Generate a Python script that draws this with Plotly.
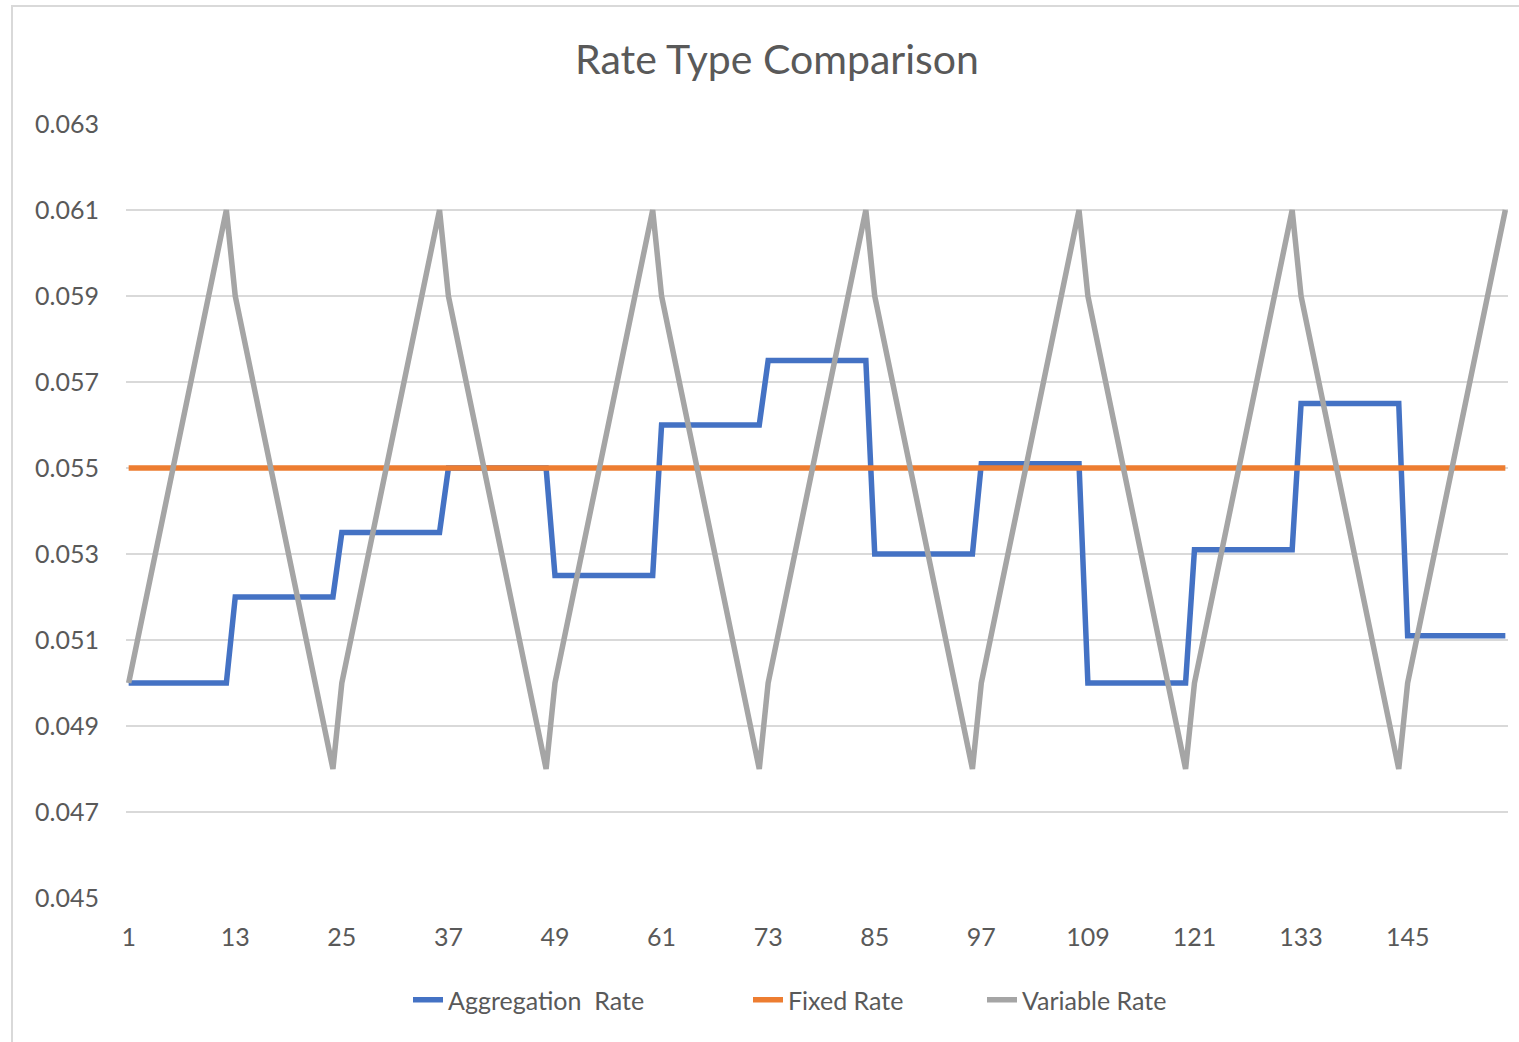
import plotly.graph_objects as go

# ---- data ----
periods = list(range(1, 157))

aggregation_rate = [
    0.0500, 0.0500, 0.0500, 0.0500, 0.0500, 0.0500, 0.0500, 0.0500, 0.0500, 0.0500, 0.0500, 0.0500,
    0.0520, 0.0520, 0.0520, 0.0520, 0.0520, 0.0520, 0.0520, 0.0520, 0.0520, 0.0520, 0.0520, 0.0520,
    0.0535, 0.0535, 0.0535, 0.0535, 0.0535, 0.0535, 0.0535, 0.0535, 0.0535, 0.0535, 0.0535, 0.0535,
    0.0550, 0.0550, 0.0550, 0.0550, 0.0550, 0.0550, 0.0550, 0.0550, 0.0550, 0.0550, 0.0550, 0.0550,
    0.0525, 0.0525, 0.0525, 0.0525, 0.0525, 0.0525, 0.0525, 0.0525, 0.0525, 0.0525, 0.0525, 0.0525,
    0.0560, 0.0560, 0.0560, 0.0560, 0.0560, 0.0560, 0.0560, 0.0560, 0.0560, 0.0560, 0.0560, 0.0560,
    0.0575, 0.0575, 0.0575, 0.0575, 0.0575, 0.0575, 0.0575, 0.0575, 0.0575, 0.0575, 0.0575, 0.0575,
    0.0530, 0.0530, 0.0530, 0.0530, 0.0530, 0.0530, 0.0530, 0.0530, 0.0530, 0.0530, 0.0530, 0.0530,
    0.0551, 0.0551, 0.0551, 0.0551, 0.0551, 0.0551, 0.0551, 0.0551, 0.0551, 0.0551, 0.0551, 0.0551,
    0.0500, 0.0500, 0.0500, 0.0500, 0.0500, 0.0500, 0.0500, 0.0500, 0.0500, 0.0500, 0.0500, 0.0500,
    0.0531, 0.0531, 0.0531, 0.0531, 0.0531, 0.0531, 0.0531, 0.0531, 0.0531, 0.0531, 0.0531, 0.0531,
    0.0565, 0.0565, 0.0565, 0.0565, 0.0565, 0.0565, 0.0565, 0.0565, 0.0565, 0.0565, 0.0565, 0.0565,
    0.0511, 0.0511, 0.0511, 0.0511, 0.0511, 0.0511, 0.0511, 0.0511, 0.0511, 0.0511, 0.0511, 0.0511,
]

fixed_rate = [
    0.055, 0.055, 0.055, 0.055, 0.055, 0.055, 0.055, 0.055, 0.055, 0.055, 0.055, 0.055,
    0.055, 0.055, 0.055, 0.055, 0.055, 0.055, 0.055, 0.055, 0.055, 0.055, 0.055, 0.055,
    0.055, 0.055, 0.055, 0.055, 0.055, 0.055, 0.055, 0.055, 0.055, 0.055, 0.055, 0.055,
    0.055, 0.055, 0.055, 0.055, 0.055, 0.055, 0.055, 0.055, 0.055, 0.055, 0.055, 0.055,
    0.055, 0.055, 0.055, 0.055, 0.055, 0.055, 0.055, 0.055, 0.055, 0.055, 0.055, 0.055,
    0.055, 0.055, 0.055, 0.055, 0.055, 0.055, 0.055, 0.055, 0.055, 0.055, 0.055, 0.055,
    0.055, 0.055, 0.055, 0.055, 0.055, 0.055, 0.055, 0.055, 0.055, 0.055, 0.055, 0.055,
    0.055, 0.055, 0.055, 0.055, 0.055, 0.055, 0.055, 0.055, 0.055, 0.055, 0.055, 0.055,
    0.055, 0.055, 0.055, 0.055, 0.055, 0.055, 0.055, 0.055, 0.055, 0.055, 0.055, 0.055,
    0.055, 0.055, 0.055, 0.055, 0.055, 0.055, 0.055, 0.055, 0.055, 0.055, 0.055, 0.055,
    0.055, 0.055, 0.055, 0.055, 0.055, 0.055, 0.055, 0.055, 0.055, 0.055, 0.055, 0.055,
    0.055, 0.055, 0.055, 0.055, 0.055, 0.055, 0.055, 0.055, 0.055, 0.055, 0.055, 0.055,
    0.055, 0.055, 0.055, 0.055, 0.055, 0.055, 0.055, 0.055, 0.055, 0.055, 0.055, 0.055,
]

variable_rate = [
    0.050, 0.051, 0.052, 0.053, 0.054, 0.055, 0.056, 0.057, 0.058, 0.059, 0.060, 0.061,
    0.059, 0.058, 0.057, 0.056, 0.055, 0.054, 0.053, 0.052, 0.051, 0.050, 0.049, 0.048,
    0.050, 0.051, 0.052, 0.053, 0.054, 0.055, 0.056, 0.057, 0.058, 0.059, 0.060, 0.061,
    0.059, 0.058, 0.057, 0.056, 0.055, 0.054, 0.053, 0.052, 0.051, 0.050, 0.049, 0.048,
    0.050, 0.051, 0.052, 0.053, 0.054, 0.055, 0.056, 0.057, 0.058, 0.059, 0.060, 0.061,
    0.059, 0.058, 0.057, 0.056, 0.055, 0.054, 0.053, 0.052, 0.051, 0.050, 0.049, 0.048,
    0.050, 0.051, 0.052, 0.053, 0.054, 0.055, 0.056, 0.057, 0.058, 0.059, 0.060, 0.061,
    0.059, 0.058, 0.057, 0.056, 0.055, 0.054, 0.053, 0.052, 0.051, 0.050, 0.049, 0.048,
    0.050, 0.051, 0.052, 0.053, 0.054, 0.055, 0.056, 0.057, 0.058, 0.059, 0.060, 0.061,
    0.059, 0.058, 0.057, 0.056, 0.055, 0.054, 0.053, 0.052, 0.051, 0.050, 0.049, 0.048,
    0.050, 0.051, 0.052, 0.053, 0.054, 0.055, 0.056, 0.057, 0.058, 0.059, 0.060, 0.061,
    0.059, 0.058, 0.057, 0.056, 0.055, 0.054, 0.053, 0.052, 0.051, 0.050, 0.049, 0.048,
    0.050, 0.051, 0.052, 0.053, 0.054, 0.055, 0.056, 0.057, 0.058, 0.059, 0.060, 0.061,
]

x_tick_values = [1, 13, 25, 37, 49, 61, 73, 85, 97, 109, 121, 133, 145]
x_tick_labels = ["1", "13", "25", "37", "49", "61", "73", "85", "97", "109", "121", "133", "145"]
y_tick_values = [0.045, 0.047, 0.049, 0.051, 0.053, 0.055, 0.057, 0.059, 0.061, 0.063]

series_names = ["Aggregation\u00a0 Rate", "Fixed Rate", "Variable Rate"]
series_colors = ["#4472C4", "#ED7D31", "#A5A5A5"]
legend_ids = ["legend", "legend2", "legend3"]

# ---- figure ----
W, H = 1519, 1042
ML, MR, MT, MB = 126, 11, 124, 144
FONT = "Lato, 'Open Sans', sans-serif"
TXT = "#595959"

fig = go.Figure()
for name, ys, col, lg in zip(series_names, [aggregation_rate, fixed_rate, variable_rate],
                             series_colors, legend_ids):
    fig.add_trace(go.Scatter(
        x=periods, y=ys, mode="lines", name=name, legend=lg,
        line=dict(color=col, width=5.5, shape="linear"),
    ))

pw = W - ML - MR
ph = H - MT - MB
# chart area border (Excel style)
fig.add_shape(type="rect", xref="paper", yref="paper",
              x0=(12 - ML) / pw, x1=(W + 10 - ML) / pw,
              y0=(H - MB - (H + 10)) / ph, y1=(H - MB - 6) / ph,
              line=dict(color="#D9D9D9", width=2), fillcolor="rgba(0,0,0,0)", layer="below")

legend_font = dict(size=25, color=TXT, family=FONT)
legend_text_starts = [448, 788, 1022]


def legend_box(text_x):
    return dict(orientation="h", x=(text_x - 40) / W, xref="container", xanchor="left",
                y=1 - 1000 / H, yref="container", yanchor="middle",
                font=legend_font, bgcolor="rgba(0,0,0,0)", borderwidth=0)


fig.update_layout(
    width=W, height=H,
    margin=dict(l=ML, r=MR, t=MT, b=MB, autoexpand=False),
    paper_bgcolor="white", plot_bgcolor="white",
    font=dict(family=FONT, color=TXT),
    title=dict(text="Rate Type Comparison", x=777 / W, xref="container", xanchor="center",
               y=1 - 60 / H, yref="container", yanchor="middle",
               font=dict(size=41, color=TXT, family=FONT)),
    showlegend=True,
    legend=legend_box(legend_text_starts[0]),
    legend2=legend_box(legend_text_starts[1]),
    legend3=legend_box(legend_text_starts[2]),
    xaxis=dict(range=[0.7, 156.3], tickmode="array", tickvals=x_tick_values, ticktext=x_tick_labels,
               showgrid=False, zeroline=False, showline=False, ticks="",
               tickfont=dict(size=25, color=TXT, family=FONT), ticklabelstandoff=22),
    yaxis=dict(range=[0.045, 0.063], tickmode="array", tickvals=y_tick_values, tickformat=".3f",
               showgrid=True, gridcolor="#D9D9D9", gridwidth=2, zeroline=False, showline=False, ticks="",
               tickfont=dict(size=25, color=TXT, family=FONT), ticklabelstandoff=26),
)

fig.write_html("out.html", config={"displayModeBar": False},
               post_script="document.body.style.margin='0';")
